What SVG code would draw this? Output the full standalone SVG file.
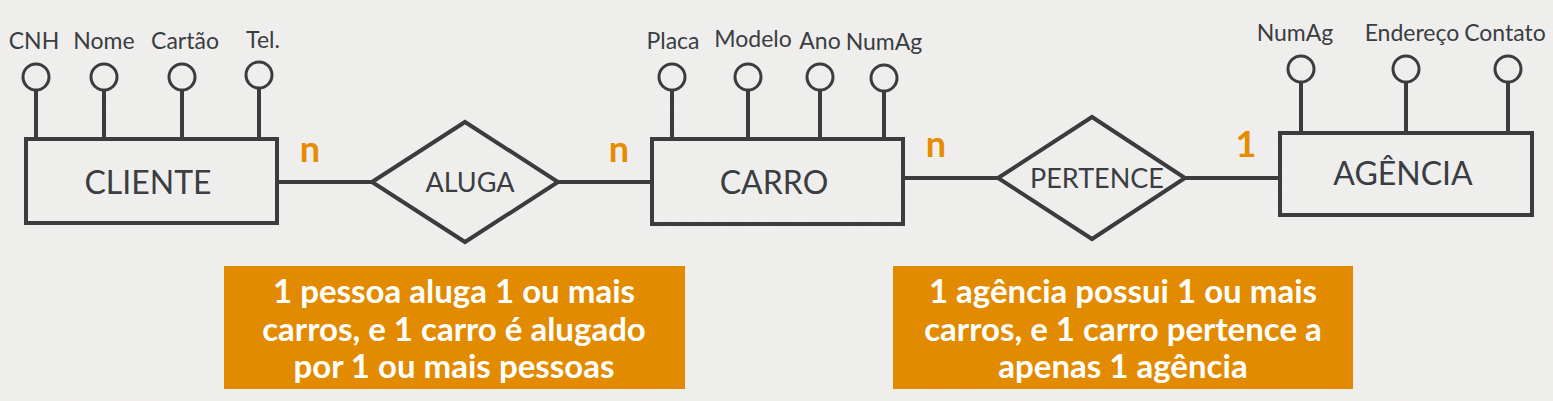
<svg xmlns="http://www.w3.org/2000/svg" width="1553" height="401" viewBox="0 0 1553 401">
<defs>
<style>
.ent{fill:none;stroke:#3c3c3c;stroke-width:4}
.rel{fill:none;stroke:#3c3c3c;stroke-width:4;stroke-linejoin:miter}
.att{fill:none;stroke:#3c3c3c;stroke-width:3}
.stem{stroke:#3c3c3c;stroke-width:4}
.conn{stroke:#3c3c3c;stroke-width:4;fill:none}
.attl{font-family:Lato,"Liberation Sans",sans-serif;font-size:23px;fill:#3a3d42;text-anchor:middle}
.entl{font-family:Lato,"Liberation Sans",sans-serif;font-size:32px;fill:#3a3d42;text-anchor:middle}
.rell{font-family:Lato,"Liberation Sans",sans-serif;font-size:27px;fill:#3a3d42;text-anchor:middle}
.card{font-family:Lato,"Liberation Sans",sans-serif;font-size:36px;font-weight:bold;fill:#e58c00;text-anchor:middle}
.note{fill:#e38b00}
.notet{font-family:Lato,"Liberation Sans",sans-serif;font-size:33px;font-weight:bold;fill:#ffffff;text-anchor:middle}
</style>
<filter id="paper" x="0" y="0" width="100%" height="100%">
<feTurbulence type="fractalNoise" baseFrequency="0.9" numOctaves="2" seed="3" result="n"/>
<feColorMatrix type="matrix" values="0 0 0 0 0.55  0 0 0 0 0.55  0 0 0 0 0.55  0 0 0 0.1 0" in="n"/>
<feComposite operator="over" in2="SourceGraphic"/>
</filter>
</defs>
<rect x="0" y="0" width="1553" height="401" fill="#f1f0ee" filter="url(#paper)"/>

<g id="connectors">
<line class="conn" x1="277" y1="182" x2="372" y2="182"/>
<line class="conn" x1="558" y1="182" x2="652" y2="182"/>
<line class="conn" x1="903" y1="178" x2="998" y2="178"/>
<line class="conn" x1="1185" y1="178" x2="1280" y2="178"/>
<text class="card" x="310" y="162">n</text>
<text class="card" x="619" y="162">n</text>
<text class="card" x="936" y="157">n</text>
<text class="card" x="1246" y="157">1</text>
</g>

<g id="cliente">
<line class="stem" x1="36" y1="90" x2="36" y2="139"/>
<line class="stem" x1="104" y1="90" x2="104" y2="139"/>
<line class="stem" x1="182" y1="90" x2="182" y2="139"/>
<line class="stem" x1="259" y1="88" x2="259" y2="139"/>
<circle class="att" cx="36" cy="77" r="13"/>
<circle class="att" cx="104" cy="77" r="13"/>
<circle class="att" cx="182" cy="77" r="13"/>
<circle class="att" cx="259" cy="75" r="13"/>
<text class="attl" x="34" y="49">CNH</text>
<text class="attl" x="104" y="49">Nome</text>
<text class="attl" x="185" y="49">Cartão</text>
<text class="attl" x="263" y="48">Tel.</text>
<rect class="ent" x="26" y="139" width="251" height="84"/>
<text class="entl" x="148" y="194">CLIENTE</text>
</g>

<g id="aluga">
<polygon class="rel" points="372,182 465,122 558,182 465,242"/>
<text class="rell" x="470" y="192">ALUGA</text>
</g>

<g id="carro">
<line class="stem" x1="672" y1="90" x2="672" y2="139"/>
<line class="stem" x1="748" y1="90" x2="748" y2="139"/>
<line class="stem" x1="820" y1="90" x2="820" y2="139"/>
<line class="stem" x1="884" y1="91" x2="884" y2="139"/>
<circle class="att" cx="672" cy="77" r="13"/>
<circle class="att" cx="748" cy="77" r="13"/>
<circle class="att" cx="820" cy="77" r="13"/>
<circle class="att" cx="884" cy="78" r="13"/>
<text class="attl" x="673" y="49">Placa</text>
<text class="attl" x="753" y="47">Modelo</text>
<text class="attl" x="820" y="49">Ano</text>
<text class="attl" x="884" y="50">NumAg</text>
<rect class="ent" x="652" y="139" width="251" height="85"/>
<text class="entl" x="774" y="194">CARRO</text>
</g>

<g id="pertence">
<polygon class="rel" points="998,178 1092,117 1185,178 1092,239"/>
<text class="rell" x="1097" y="188">PERTENCE</text>
</g>

<g id="agencia">
<line class="stem" x1="1301" y1="82" x2="1301" y2="133"/>
<line class="stem" x1="1406" y1="82" x2="1406" y2="133"/>
<line class="stem" x1="1508" y1="82" x2="1508" y2="133"/>
<circle class="att" cx="1301" cy="69" r="13"/>
<circle class="att" cx="1406" cy="69" r="13"/>
<circle class="att" cx="1508" cy="69" r="13"/>
<text class="attl" x="1295" y="41">NumAg</text>
<text class="attl" x="1412" y="41">Endereço</text>
<text class="attl" x="1505" y="41">Contato</text>
<rect class="ent" x="1280" y="133" width="252" height="82"/>
<text class="entl" x="1403" y="185">AGÊNCIA</text>
</g>

<g id="nota-aluga">
<rect class="note" x="224" y="266" width="461" height="123"/>
<text class="notet" x="454" y="303">1 pessoa aluga 1 ou mais</text>
<text class="notet" x="454" y="341">carros, e 1 carro é alugado</text>
<text class="notet" x="454" y="378">por 1 ou mais pessoas</text>
</g>

<g id="nota-pertence">
<rect class="note" x="893" y="266" width="460" height="123"/>
<text class="notet" x="1123" y="303">1 agência possui 1 ou mais</text>
<text class="notet" x="1123" y="341">carros, e 1 carro pertence a</text>
<text class="notet" x="1123" y="378">apenas 1 agência</text>
</g>
</svg>
